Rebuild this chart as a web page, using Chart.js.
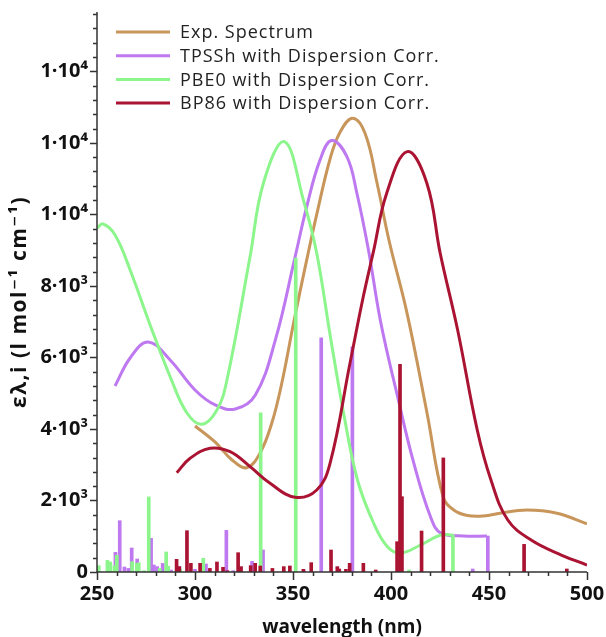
<!DOCTYPE html>
<html>
<head>
<meta charset="utf-8">
<script src="https://cdn.jsdelivr.net/npm/chart.js@4.4.0/dist/chart.umd.min.js"></script>
<style>
  html, body { margin: 0; padding: 0; background: #fff; }
</style>
</head>
<body>
<canvas id="spectrum" width="606" height="637"></canvas>
<script>
'use strict';

// series names + colours (legend order)
const seriesNames = ['Exp. Spectrum', 'TPSSh with Dispersion Corr.', 'PBE0 with Dispersion Corr.', 'BP86 with Dispersion Corr.'];
const seriesColors = ['#C8955A', '#BE78F0', '#8CF58C', '#AA1432'];

// axis titles + tick labels
const xTitle = 'wavelength (nm)';
const yTitle = 'ελ,i (l mol⁻¹ cm⁻¹)';
const xTickValues = [250, 300, 350, 400, 450, 500];
const yTickValues = [0, 2000, 4000, 6000, 8000, 10000, 12000, 14000];
const yTickLabels = ['0', '2·10³', '4·10³', '6·10³', '8·10³', '1·10⁴', '1·10⁴', '1·10⁴'];

// experimental spectrum
const expX = [300.0, 310.2, 318.9, 326.4, 333.2, 339.2, 344.3, 350.6, 357.0, 362.1, 368.9, 374.0, 380.5, 386.8, 392.9, 399.0, 408.2, 418.4, 426.6, 432.0, 439.0, 447.2, 455.7, 469.3, 484.7, 500.0];
const expY = [4084, 3636, 3133, 2917, 3328, 4167, 5286, 7048, 8727, 10000, 11550, 12300, 12690, 12260, 10872, 9270, 7234, 4441, 2098, 1734, 1580, 1566, 1642, 1734, 1642, 1350];

// TPSSh curve
const tpsshX = [259.2, 266.9, 276.1, 287.3, 300.0, 310.3, 320.6, 330.8, 341.0, 351.1, 357.0, 363.8, 369.7, 377.5, 382.6, 388.5, 394.7, 403.4, 411.6, 420.2, 425.4, 437.0, 448.9];
const tpsshY = [5202, 5985, 6433, 5930, 5090, 4671, 4559, 4950, 6489, 8820, 10218, 11524, 12064, 11616, 10592, 9006, 7000, 4895, 3049, 1538, 1091, 1007, 1007];

// PBE0 curve
const pbe0X = [250.0, 253.0, 259.2, 266.9, 277.1, 288.0, 295.9, 303.5, 311.2, 316.3, 328.1, 334.9, 345.6, 355.3, 362.1, 369.1, 375.8, 382.9, 391.1, 398.3, 404.9, 415.1, 425.4, 431.5];
const pbe0Y = [9621, 9733, 9426, 8447, 6909, 5370, 4447, 4131, 4531, 5370, 8820, 10872, 12035, 10405, 8914, 6573, 4447, 2573, 1370, 699, 531, 755, 1035, 1035];

// BP86 curve
const bp86X = [290.7, 297.5, 307.7, 317.9, 328.1, 338.3, 351.1, 362.1, 368.9, 379.1, 385.9, 391.0, 397.8, 408.3, 418.3, 425.1, 434.0, 444.0, 451.0, 459.6, 471.5, 486.9, 500.0];
const bp86Y = [2777, 3180, 3460, 3365, 2945, 2480, 2089, 2293, 3040, 5846, 7710, 8950, 10592, 11755, 10872, 8914, 6769, 3972, 2573, 1454, 895, 475, 196];

// calculated transitions (stick spectra): [wavelength, epsilon]
const tpsshSticks = [[259.4, 550], [261.6, 1435], [264, 140], [266, 100], [267.7, 671], [270.5, 363], [277.6, 940], [279, 196], [280.7, 150], [283.5, 240], [287.8, 56], [292, 150], [300, 75], [305.6, 224], [316.0, 1165], [319.5, 37], [329.1, 298], [334.7, 615], [355.5, 37], [364.4, 6545], [380.3, 6300], [441.7, 84], [449.4, 1007]];
const pbe0Sticks = [[250.9, 177], [255.3, 326], [256.8, 280], [258.9, 177], [260.1, 466], [267.9, 290], [270.3, 240], [271.3, 260], [274, 37], [276.4, 2100], [282, 100], [285.3, 560], [286.3, 160], [292.5, 75], [304.2, 382], [333.5, 4450], [351.4, 8780], [409.2, 56], [431.6, 1035]];
const bp86Sticks = [[290.6, 354], [292, 150], [295.9, 1155], [297.9, 242], [302.6, 242], [307.6, 100], [311.2, 280], [314.3, 130], [316.5, 37], [322, 540], [323.5, 150], [328.4, 177], [330.7, 242], [333.3, 168], [339.5, 100], [345.3, 150], [348.4, 168], [355.3, 75], [359.3, 261], [369.4, 615], [372.6, 150], [373.6, 84], [377, 75], [378.9, 242], [385.9, 242], [392.2, 56], [403.1, 848], [404.6, 5808], [405.6, 2106], [415.6, 1146], [426.7, 3190], [467.9, 773], [489.7, 84]];

const FONT = '"Open Sans", "DejaVu Sans", sans-serif';

function toPoints(xs, ys) {
  return xs.map((x, i) => ({ x: x, y: ys[i] }));
}
function sticksToPoints(list) {
  return list.map(p => ({ x: p[0], y: p[1] }));
}

function curve(idx, xs, ys, order) {
  return {
    type: 'line',
    label: seriesNames[idx],
    data: toPoints(xs, ys),
    borderColor: seriesColors[idx],
    borderWidth: 3,
    pointRadius: 0,
    fill: false,
    tension: 0.4,
    order: order
  };
}
function sticks(idx, list, order) {
  return {
    type: 'bar',
    label: seriesNames[idx] + ' sticks',
    data: sticksToPoints(list),
    backgroundColor: seriesColors[idx],
    barThickness: 3,
    grouped: false,
    order: order
  };
}

// legend drawn inside the plot, top left
const insideLegend = {
  id: 'insideLegend',
  afterDatasetsDraw(chart) {
    const ctx = chart.ctx;
    ctx.save();
    ctx.font = '18px ' + FONT;
    ctx.letterSpacing = '1px';
    ctx.textBaseline = 'middle';
    for (let i = 0; i < seriesNames.length; i++) {
      const y = 32 + i * 23.7;
      ctx.strokeStyle = seriesColors[i];
      ctx.lineWidth = 3;
      ctx.beginPath();
      ctx.moveTo(116, y);
      ctx.lineTo(170, y);
      ctx.stroke();
      ctx.fillStyle = '#222';
      ctx.fillText(seriesNames[i], 180, y + 1);
    }
    ctx.restore();
  }
};

// axis lines with major / minor tick marks, plus axis titles
const axisTicks = {
  id: 'axisTicks',
  afterDraw(chart) {
    const { ctx, chartArea } = chart;
    const xs = chart.scales.x;
    const ys = chart.scales.y;
    ctx.save();
    ctx.strokeStyle = '#333';
    ctx.lineWidth = 1.5;
    ctx.beginPath();
    for (let v = 250; v <= 500; v += 10) {
      const px = Math.round(xs.getPixelForValue(v)) + 0.5;
      const len = v % 50 === 0 ? 8 : 4;
      ctx.moveTo(px, chartArea.bottom);
      ctx.lineTo(px, chartArea.bottom + len);
    }
    for (let v = 0; v <= ys.max; v += 400) {
      const py = Math.round(ys.getPixelForValue(v)) + 0.5;
      const len = v % 2000 === 0 ? 7 : 4;
      ctx.moveTo(chartArea.left, py);
      ctx.lineTo(chartArea.left - len, py);
    }
    ctx.moveTo(chartArea.left, chartArea.top);
    ctx.lineTo(chartArea.left, chartArea.bottom);
    ctx.lineTo(chartArea.right, chartArea.bottom);
    ctx.stroke();

    ctx.fillStyle = '#111';
    ctx.font = 'bold 19px ' + FONT;
    ctx.textAlign = 'center';
    ctx.textBaseline = 'alphabetic';
    ctx.fillText(xTitle, (chartArea.left + chartArea.right) / 2, 633);

    ctx.translate(20, 302);
    ctx.rotate(-Math.PI / 2);
    ctx.font = 'bold 21px ' + FONT;
    ctx.letterSpacing = '1.5px';
    ctx.textBaseline = 'middle';
    ctx.fillText(yTitle, 0, 0);
    ctx.restore();
  }
};

new Chart(document.getElementById('spectrum'), {
  type: 'scatter',
  data: {
    datasets: [
      curve(0, expX, expY, 8),
      curve(1, tpsshX, tpsshY, 6),
      sticks(1, tpsshSticks, 5),
      curve(2, pbe0X, pbe0Y, 4),
      sticks(2, pbe0Sticks, 3),
      curve(3, bp86X, bp86Y, 2),
      sticks(3, bp86Sticks, 1)
    ]
  },
  options: {
    responsive: false,
    animation: false,
    layout: { padding: { top: 12, right: 19, left: 0, bottom: 0 } },
    plugins: {
      legend: { display: false },
      tooltip: { enabled: false }
    },
    scales: {
      x: {
        type: 'linear',
        min: 250,
        max: 500,
        offset: false,
        grid: { display: false, drawTicks: false },
        border: { display: false },
        ticks: {
          padding: 10,
          maxRotation: 0,
          autoSkip: false,
          color: '#111',
          font: { family: FONT, size: 20, weight: 'bold' },
          callback: (v, i) => String(xTickValues[i])
        },
        afterBuildTicks(scale) {
          scale.ticks = xTickValues.map(v => ({ value: v }));
        },
        afterFit(scale) {
          scale.height = 65;
          scale.paddingLeft = 0;
          scale.paddingRight = 0;
        }
      },
      y: {
        type: 'linear',
        min: 0,
        max: 15660,
        grid: { display: false, drawTicks: false },
        border: { display: false },
        ticks: {
          padding: 9,
          autoSkip: false,
          color: '#111',
          font: { family: FONT, size: 20, weight: 'bold' },
          callback: (v, i) => yTickLabels[i]
        },
        afterBuildTicks(scale) {
          scale.ticks = yTickValues.map(v => ({ value: v }));
        },
        afterFit(scale) {
          scale.width = 97;
          scale.paddingTop = 0;
          scale.paddingBottom = 0;
        }
      }
    }
  },
  plugins: [insideLegend, axisTicks]
});
</script>
</body>
</html>
